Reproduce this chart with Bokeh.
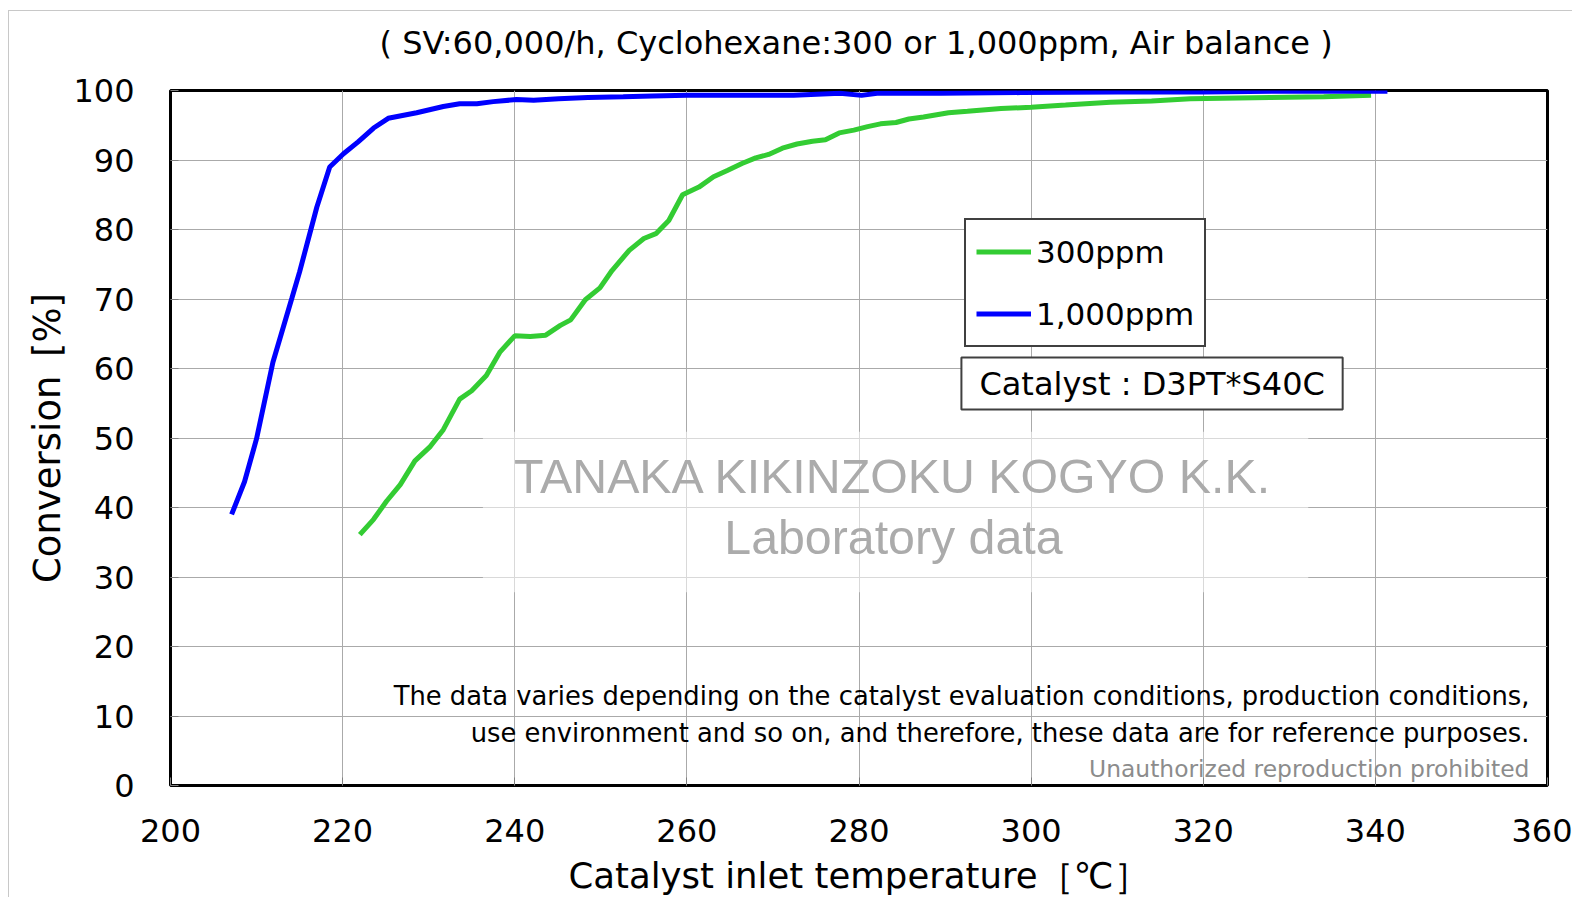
from bokeh.plotting import figure
from bokeh.models import Legend, LegendItem, Label, BoxAnnotation, FixedTicker, Range1d, Title
from bokeh.embed import file_html
from bokeh.resources import INLINE

# ---- data ----
temp_1000 = [207.1, 208.6, 210.0, 211.9, 214.1, 215.0, 217.0, 218.5, 220.1, 221.8,
             223.6, 225.3, 228.6, 231.7, 233.6, 235.6, 237.5, 240.2, 242.2, 245.1,
             248.5, 252.6, 256.0, 260.0, 266.0, 272.4, 277.8, 280.3, 282.1, 289.5,
             298.8, 310.0, 320.0, 330.0, 341.4]
conv_1000 = [39.0, 43.7, 49.9, 60.9, 70.1, 73.9, 83.2, 89.0, 90.9, 92.6,
             94.6, 96.0, 96.8, 97.7, 98.1, 98.1, 98.4, 98.7, 98.6, 98.8,
             99.0, 99.1, 99.2, 99.3, 99.3, 99.3, 99.6, 99.3, 99.6, 99.6,
             99.7, 99.8, 99.8, 99.9, 99.9]

temp_300 = [222.0, 223.6, 225.1, 226.7, 228.4, 230.2, 231.7, 233.6, 235.0, 236.7,
            238.3, 240.0, 241.8, 243.6, 245.3, 246.5, 248.2, 249.9, 251.3, 253.3,
            255.0, 256.4, 257.9, 259.5, 261.4, 263.1, 264.7, 266.4, 268.0, 269.5,
            271.1, 272.8, 274.6, 276.1, 277.7, 279.4, 281.0, 282.5, 284.3, 285.8,
            287.5, 290.4, 292.6, 296.5, 300.0, 304.0, 309.2, 314.0, 318.5, 327.8,
            334.0, 339.5]
conv_300 = [36.1, 38.3, 40.9, 43.3, 46.7, 48.8, 51.2, 55.6, 56.8, 59.0,
            62.4, 64.7, 64.6, 64.8, 66.2, 67.0, 69.9, 71.6, 74.1, 77.0,
            78.7, 79.4, 81.3, 85.0, 86.1, 87.6, 88.5, 89.5, 90.3, 90.8,
            91.7, 92.3, 92.7, 92.9, 93.9, 94.3, 94.8, 95.2, 95.4, 95.9,
            96.2, 96.8, 97.0, 97.4, 97.6, 97.9, 98.3, 98.5, 98.8, 99.0,
            99.1, 99.3]

x_ticks = [200, 220, 240, 260, 280, 300, 320, 340, 360]
y_ticks = [0, 10, 20, 30, 40, 50, 60, 70, 80, 90, 100]

series_labels = ["300ppm", "1,000ppm"]
series_colors = ["#33cc33", "#0000ff"]

title_text = "( SV:60,000/h, Cyclohexane:300 or 1,000ppm, Air balance )"
x_label = "Catalyst inlet temperature［℃］"
y_label = "Conversion\u2002[%]"
catalyst_text = "Catalyst : D3PT*S40C"
watermark_lines = ["TANAKA KIKINZOKU KOGYO K.K.", "Laboratory data"]
note_lines = ["The data varies depending on the catalyst evaluation conditions, production conditions,",
              "use environment and so on, and therefore, these data are for reference purposes."]
copy_text = "Unauthorized reproduction prohibited"

FONT = "DejaVu Sans"

p = figure(width=1564, height=887,
           x_range=Range1d(200, 360), y_range=Range1d(0, 100),
           output_backend="svg", toolbar_location=None,
           min_border_left=161, min_border_right=26,
           min_border_top=79, min_border_bottom=110)
p.styles = {"margin-left": "8px", "margin-top": "10px",
            "border-left": "1px solid #c8c8c8", "border-top": "1px solid #c8c8c8"}

p.background_fill_color = "white"
p.border_fill_color = "white"
p.outline_line_color = "black"
p.outline_line_width = 3

# spacer (invisible) next to the frame, then the real title above it
p.add_layout(Title(text=" ", text_font_size="2px", standoff=25, text_color="white"), "above")
p.add_layout(Title(text=title_text, align="left", offset=209, standoff=0,
                   text_font=FONT, text_font_size="32px", text_font_style="normal",
                   text_color="black"), "above")

for ax, ticks in ((p.xaxis, x_ticks), (p.yaxis, y_ticks)):
    ax.ticker = FixedTicker(ticks=ticks)
    ax.axis_line_color = None
    ax.major_tick_in = 8
    ax.major_tick_out = 0
    ax.major_tick_line_color = "#808080"
    ax.minor_tick_line_color = None
    ax.major_label_text_font = FONT
    ax.major_label_text_font_size = "32px"
    ax.major_label_text_color = "black"
    ax.axis_label_text_font = FONT
    ax.axis_label_text_font_style = "normal"
    ax.axis_label_text_color = "black"

p.xaxis.axis_label = x_label
p.xaxis.axis_label_text_font_size = "35.5px"
p.xaxis.major_label_standoff = 33
p.xaxis.axis_label_standoff = 10
p.yaxis.axis_label = y_label
p.yaxis.axis_label_text_font_size = "37px"
p.yaxis.major_label_standoff = 36
p.yaxis.axis_label_standoff = 1

p.grid.grid_line_color = "#aaaaaa"
p.grid.grid_line_width = 1
p.xgrid.ticker = FixedTicker(ticks=x_ticks)
p.ygrid.ticker = FixedTicker(ticks=y_ticks)

# watermark backdrop
p.add_layout(BoxAnnotation(left=236.3, right=332.2, bottom=27.8, top=50.9,
                           fill_color="white", fill_alpha=0.55, line_alpha=0))

g = p.line(temp_300, conv_300, line_color=series_colors[0], line_width=5)
b = p.line(temp_1000, conv_1000, line_color=series_colors[1], line_width=5)

for txt, yy in zip(watermark_lines, [44.5, 35.8]):
    p.add_layout(Label(x=284.0, y=yy, text=txt, text_align="center", text_baseline="middle",
                       text_font="Liberation Sans", text_font_size="48.3px", text_color="#ababab"))

for txt, yy in zip(note_lines, [12.9, 7.6]):
    p.add_layout(Label(x=357.9, y=yy, text=txt, text_align="right", text_baseline="middle",
                       text_font=FONT, text_font_size="25.8px", text_color="black"))
p.add_layout(Label(x=357.9, y=2.4, text=copy_text, text_align="right", text_baseline="middle",
                   text_font=FONT, text_font_size="23.4px", text_color="#8c8c8c"))

# catalyst box
p.add_layout(BoxAnnotation(left=291.9, right=336.2, bottom=54.1, top=61.6,
                           fill_color="white", fill_alpha=1.0,
                           line_color="#404040", line_width=2, line_alpha=1.0))
p.add_layout(Label(x=314.06, y=57.8, text=catalyst_text, text_align="center", text_baseline="middle",
                   text_font=FONT, text_font_size="32px", text_color="black"))

legend = Legend(items=[LegendItem(label=series_labels[0], renderers=[g]),
                       LegendItem(label=series_labels[1], renderers=[b])],
                location=(794, 438), margin=0, padding=10, spacing=19,
                glyph_width=55, glyph_height=43, label_height=43, label_standoff=5,
                label_text_font=FONT, label_text_font_size="31px", label_text_color="black",
                border_line_color="#404040", border_line_width=2, border_line_alpha=1.0,
                background_fill_color="white", background_fill_alpha=1.0)
p.add_layout(legend)

open("out.html", "w").write(file_html(p, INLINE))
